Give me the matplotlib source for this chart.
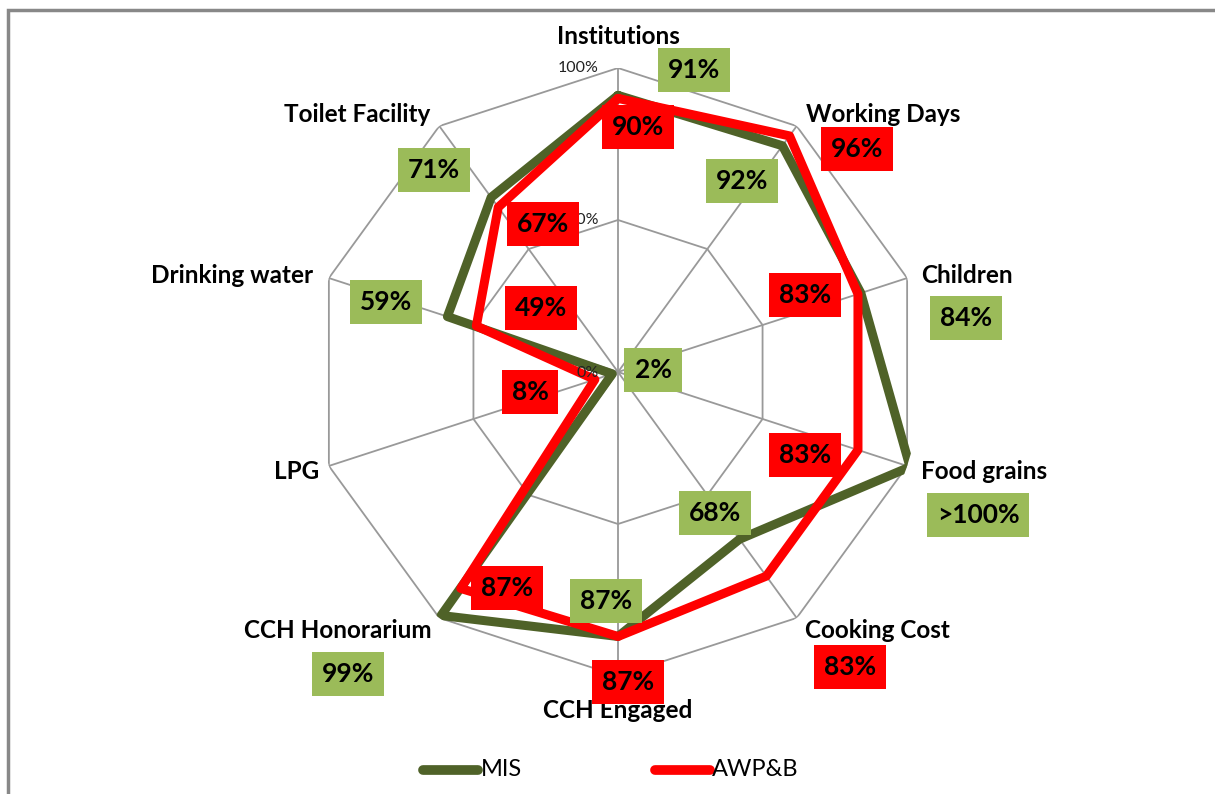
import numpy as np
import matplotlib.pyplot as plt

categories = ["Institutions", "Working Days", "Children", "Food grains", "Cooking Cost",
              "CCH Engaged", "CCH Honorarium", "LPG", "Drinking water", "Toilet Facility"]
mis = [91, 92, 84, 101, 68, 87, 99, 2, 59, 71]
awpb = [90, 96, 83, 83, 83, 87, 88, 8, 49, 67]

# value boxes: (text, colour, x px, y px)
green_box = "#9BBB59"
red_box = "#FF0000"
box_labels = [
    ("91%", green_box, 694, 70), ("90%", red_box, 638, 127),
    ("92%", green_box, 742, 181), ("96%", red_box, 857, 149),
    ("84%", green_box, 966, 318), ("83%", red_box, 805, 295),
    ("2%", green_box, 653, 370), ("83%", red_box, 805, 455),
    (">100%", green_box, 978, 515), ("68%", green_box, 715, 513),
    ("83%", red_box, 850, 667), ("87%", green_box, 606, 601),
    ("87%", red_box, 507, 588), ("87%", red_box, 628, 682),
    ("99%", green_box, 348, 674), ("8%", red_box, 530, 392),
    ("49%", red_box, 541, 308), ("59%", green_box, 386, 302),
    ("67%", red_box, 543, 224), ("71%", green_box, 434, 170),
]
cat_pos = [(618, 37), (883, 115), (967, 275), (984, 472), (877, 631),
           (618, 710), (338, 631), (297, 472), (232, 275), (357, 115)]

W, H = 1215, 794
fig = plt.figure(figsize=(W / 100, H / 100), dpi=100)
plt.rcParams['font.family'] = ['Lato', 'DejaVu Sans']

# outer border (only top and left edges fall inside the picture)
fig.patches.append(plt.Rectangle((8 / W, -0.3), 1.5, 1.3 - 10 / H, transform=fig.transFigure,
                                 fill=False, edgecolor="#888888", linewidth=2.5))

cx, cy, R = 618, 372, 304
ax = fig.add_axes([(cx - R) / W, (H - cy - R) / H, 2 * R / W, 2 * R / H], projection="polar")
ax.set_theta_offset(np.pi / 2)
ax.set_theta_direction(-1)
ax.set_ylim(0, 100)
ax.axis("off")

n = len(categories)
theta = np.linspace(0, 2 * np.pi, n, endpoint=False)
theta_c = np.append(theta, theta[0])

grid_c = "#999999"
for ring in [50, 100]:
    ax.plot(theta_c, [ring] * (n + 1), color=grid_c, lw=1.3, zorder=1)
for t in theta:
    ax.plot([t, t], [0, 100], color=grid_c, lw=1.3, zorder=1)

ax.plot(theta_c, np.append(mis, mis[0]), color="#4F6228", lw=6.5, zorder=3,
        solid_joinstyle="round", solid_capstyle="round")
ax.plot(theta_c, np.append(awpb, awpb[0]), color="#FF0000", lw=6.5, zorder=4,
        solid_joinstyle="round", solid_capstyle="round")

for rv, y in [("100%", 68), ("50%", 220), ("0%", 373)]:
    fig.text(599 / W, 1 - y / H, rv, ha="right", va="center", fontsize=11.5, color="#222222",
             zorder=6)

for name, (x, y) in zip(categories, cat_pos):
    fig.text(x / W, 1 - y / H, name, ha="center", va="center", fontsize=17.5,
             fontweight="bold", color="black")

for txt, col, x, y in box_labels:
    fig.text(x / W, 1 - y / H, txt, ha="center", va="center", fontsize=19,
             fontweight="bold", color="black", zorder=7,
             bbox=dict(boxstyle="square,pad=0.38", facecolor=col, edgecolor="none"))

# legend
lax = fig.add_axes([0, 0, 1, 1], facecolor="none")
lax.set_xlim(0, W)
lax.set_ylim(H, 0)
lax.axis("off")
lax.plot([423, 478], [770, 770], color="#4F6228", lw=7, solid_capstyle="round")
lax.text(481, 770, "MIS", ha="left", va="center", fontsize=17)
lax.plot([655, 710], [770, 770], color="#FF0000", lw=7, solid_capstyle="round")
lax.text(712, 770, "AWP&B", ha="left", va="center", fontsize=17)

fig.savefig("out.png", dpi=100)
